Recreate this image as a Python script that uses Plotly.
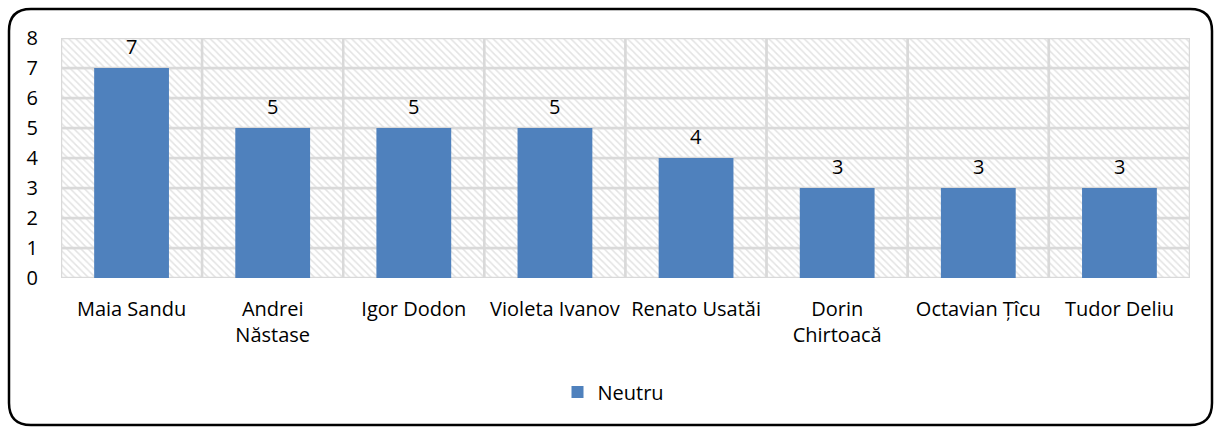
import plotly.graph_objects as go

categories = ["Maia Sandu", "Andrei<br>Năstase", "Igor Dodon", "Violeta Ivanov",
              "Renato Usatăi", "Dorin<br>Chirtoacă", "Octavian Țîcu", "Tudor Deliu"]
neutru = [7, 5, 5, 5, 4, 3, 3, 3]
y_ticks = [0, 1, 2, 3, 4, 5, 6, 7, 8]
series_name = "Neutru"

W, H = 1215, 427
L, R, T, B = 61, 25, 38, 149
pw, ph = W - L - R, H - T - B

FONT = "Open Sans"
FS = 20
BLUE = "#4f81bd"
GRID = "#d9d9d9"

fig = go.Figure()

# hatched background cells forming the grid (one cell per category per unit)
ymax = y_ticks[-1]
bg_x, bg_base = [], []
for k in range(ymax):
    for c in categories:
        bg_x.append(c)
        bg_base.append(k)
fig.add_trace(go.Bar(
    x=bg_x, y=[1] * len(bg_x), base=bg_base, width=1,
    marker=dict(color="white", line=dict(color=GRID, width=2.5),
                pattern=dict(shape="\\", fgcolor="#c8c8c8", bgcolor="white",
                             size=5, solidity=0.3)),
    showlegend=False, hoverinfo="skip"))

fig.add_trace(go.Bar(
    x=categories, y=neutru, name=series_name, width=0.53,
    marker=dict(color=BLUE, line=dict(width=0)),
    hoverinfo="skip"))

for c, v in zip(categories, neutru):
    fig.add_annotation(x=c, y=v, text=str(v), showarrow=False, yshift=22,
                       font=dict(family=FONT, size=FS, color="black"))

def px(x):
    return (x - L) / pw

def py(y):
    return (T + ph - y) / ph

x0, x1, y0, y1, r = 9, 1212, 9, 425, 22
path = (f"M {px(x0 + r)},{py(y0)} L {px(x1 - r)},{py(y0)} "
        f"Q {px(x1)},{py(y0)} {px(x1)},{py(y0 + r)} "
        f"L {px(x1)},{py(y1 - r)} Q {px(x1)},{py(y1)} {px(x1 - r)},{py(y1)} "
        f"L {px(x0 + r)},{py(y1)} Q {px(x0)},{py(y1)} {px(x0)},{py(y1 - r)} "
        f"L {px(x0)},{py(y0 + r)} Q {px(x0)},{py(y0)} {px(x0 + r)},{py(y0)} Z")
fig.add_shape(type="path", path=path, xref="paper", yref="paper",
              line=dict(color="black", width=2.5), layer="above")

fig.update_layout(
    width=W, height=H,
    margin=dict(l=L, r=R, t=T, b=B),
    barmode="overlay",
    paper_bgcolor="white", plot_bgcolor="white",
    font=dict(family=FONT, size=FS, color="black"),
    showlegend=True,
    legend=dict(orientation="h", x=0.5 - 12 / pw, xanchor="center", y=py(392),
                yanchor="middle", font=dict(family=FONT, size=FS, color="black"),
                itemwidth=30),
    xaxis=dict(showgrid=False, showline=False, ticks="", tickfont=dict(size=FS),
               range=[-0.5, len(categories) - 0.5], automargin=False,
               ticklabelstandoff=17),
    yaxis=dict(range=[0, ymax], tickvals=y_ticks, showgrid=False, zeroline=False,
               showline=False, ticks="", tickfont=dict(size=FS), automargin=False,
               ticklabelstandoff=22),
)

fig.write_html("out.html", config={"displayModeBar": False},
               post_script="document.body.style.margin='0';document.body.style.overflow='hidden';")
